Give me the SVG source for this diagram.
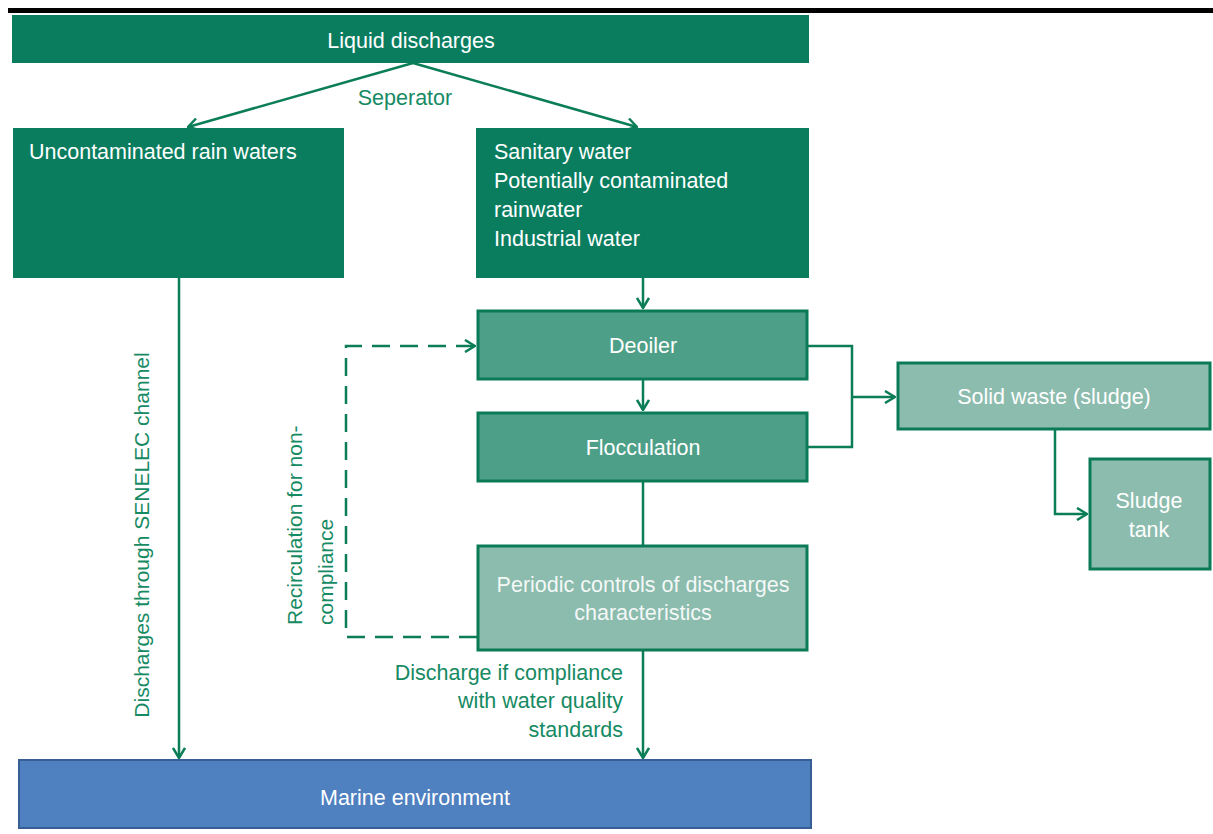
<svg xmlns="http://www.w3.org/2000/svg" width="1213" height="834" viewBox="0 0 1213 834">
<style>
.t{font-family:"Liberation Sans",Arial,sans-serif;font-size:21.5px;fill:#ffffff}
.g{font-family:"Liberation Sans",Arial,sans-serif;font-size:21.5px;fill:#168a63}
.v{font-size:21px}
.c{fill:none;stroke:#0b7d57;stroke-width:2.5}
.dark{fill:#0a7d5f}
.mid{fill:#4e9f88;stroke:#0b7a57;stroke-width:3}
.light{fill:#8cbcae;stroke:#0b7a57;stroke-width:3}
</style>
<defs>
<marker id="arr" viewBox="0 0 12 14" refX="11" refY="7" markerWidth="12" markerHeight="14" markerUnits="userSpaceOnUse" orient="auto">
<path d="M1,1 L11,7 L1,13" fill="none" stroke="#0b7d57" stroke-width="2.5"/>
</marker>
</defs>
<rect x="0" y="0" width="1213" height="834" fill="#ffffff"/>
<rect x="8" y="8" width="1205" height="5" fill="#000000"/>

<g id="connectors">
<path class="c" d="M413,63 L188,127" marker-end="url(#arr)"/>
<path class="c" d="M413,63 L637,127" marker-end="url(#arr)"/>
<path class="c" d="M179,278 V758" marker-end="url(#arr)"/>
<path class="c" d="M643,278 V308" marker-end="url(#arr)"/>
<path class="c" d="M643,380 V410" marker-end="url(#arr)"/>
<path class="c" d="M643,482 V545"/>
<path class="c" d="M643,651 V758" marker-end="url(#arr)"/>
<path class="c" d="M808,346 H852 V447 H808"/>
<path class="c" d="M852,397 H895" marker-end="url(#arr)"/>
<path class="c" d="M1055,429 V514 H1087" marker-end="url(#arr)"/>
<path class="c" d="M477,637 H346 V346 H475" stroke-dasharray="18 10" marker-end="url(#arr)"/>
<text class="g" x="405" y="105" text-anchor="middle">Seperator</text>
<text class="g v" transform="translate(149,535) rotate(-90)" text-anchor="middle">Discharges through SENELEC channel</text>
<text class="g v" transform="translate(302,625) rotate(-90)">Recirculation for non-</text>
<text class="g v" transform="translate(333,625) rotate(-90)">compliance</text>
<text class="g" x="623" y="680" text-anchor="end">Discharge if compliance</text>
<text class="g" x="623" y="708" text-anchor="end">with water quality</text>
<text class="g" x="623" y="737" text-anchor="end">standards</text>
</g>

<g id="liquid-discharges">
<rect class="dark" x="12" y="15" width="797" height="48"/>
<text class="t" x="411" y="48" text-anchor="middle">Liquid discharges</text>
</g>
<g id="uncontaminated">
<rect class="dark" x="13" y="128" width="331" height="150"/>
<text class="t" x="29" y="159">Uncontaminated rain waters</text>
</g>
<g id="contaminated">
<rect class="dark" x="476" y="128" width="333" height="150"/>
<text class="t" x="494" y="159">Sanitary water</text>
<text class="t" x="494" y="188">Potentially contaminated</text>
<text class="t" x="494" y="217">rainwater</text>
<text class="t" x="494" y="246">Industrial water</text>
</g>
<g id="deoiler">
<rect class="mid" x="478" y="311" width="329" height="68"/>
<text class="t" x="643" y="353" text-anchor="middle">Deoiler</text>
</g>
<g id="flocculation">
<rect class="mid" x="478" y="413" width="329" height="68"/>
<text class="t" x="643" y="455" text-anchor="middle">Flocculation</text>
</g>
<g id="periodic-controls">
<rect class="light" x="478" y="546" width="329" height="104"/>
<text class="t" x="643" y="592" text-anchor="middle" fill-opacity="0.92">Periodic controls of discharges</text>
<text class="t" x="643" y="620" text-anchor="middle" fill-opacity="0.92">characteristics</text>
</g>
<g id="solid-waste">
<rect class="light" x="898" y="363" width="312" height="66"/>
<text class="t" x="1054" y="404" text-anchor="middle">Solid waste (sludge)</text>
</g>
<g id="sludge-tank">
<rect class="light" x="1090" y="459" width="120" height="110"/>
<text class="t" x="1149" y="508" text-anchor="middle">Sludge</text>
<text class="t" x="1149" y="537" text-anchor="middle">tank</text>
</g>
<g id="marine-environment">
<rect x="19" y="760" width="792" height="68" fill="#4f80c0" stroke="#375f96" stroke-width="2"/>
<text class="t" x="415" y="805" text-anchor="middle">Marine environment</text>
</g>
</svg>
